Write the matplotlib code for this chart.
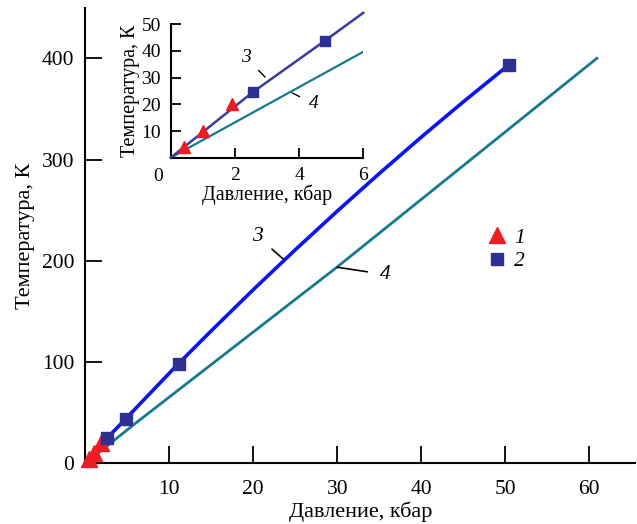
import matplotlib
matplotlib.use("Agg")
import matplotlib.pyplot as plt
from matplotlib.lines import Line2D

plt.rcParams['font.family'] = ['Liberation Serif', 'DejaVu Serif']

# Data
tri_p = [0.4, 1.02, 1.92]
tri_t = [4.1, 10.1, 20.1]
sq_p = [2.55, 4.8, 11.1, 50.4]
sq_t = [24.5, 43.8, 98.0, 393.4]
line3_p = [0, 2.55, 4.8, 6.0, 11.1, 15.0, 20.0, 25.0, 30.0, 35.0, 40.0, 45.0, 50.4]
line3_t = [0, 24.5, 43.8, 54.3, 98.5, 130.9, 171.5, 210.9, 249.1, 286.2, 322.2, 357.0, 393.4]
line4_p = [0, 6.0, 30.0, 60.9]
line4_t = [0, 39.7, 194.0, 400.0]
main_xticks = [10, 20, 30, 40, 50, 60]
main_yticks = [0, 100, 200, 300, 400]
inset_xticks = [2, 4, 6]
inset_yticks = [10, 20, 30, 40, 50]

C_RED = '#ee1c25'
C_SQ = '#2e3192'
C_L3 = '#0a14f5'
C_L3_IN = '#3b3b9b'
C_L4 = '#16798f'

fig = plt.figure(figsize=(6.37, 5.24), dpi=100)
# x: 0 at 85.3 px, 10 kbar = 84 px ; y: 0 at 463.3 px, 100 K = 101.25 px
ax = fig.add_axes([85.3 / 637, 1 - 463.3 / 524, 550 / 637, 455 / 524])

ax.plot(line4_p, line4_t, color=C_L4, lw=2.0, zorder=2)
ax.plot(line3_p, line3_t, color=C_L3, lw=2.6, zorder=3)
ax.plot(tri_p, tri_t, linestyle='none', marker='^', color=C_RED, ms=11, clip_on=False, zorder=4)
ax.plot(sq_p, sq_t, linestyle='none', marker='s', color=C_SQ, ms=9, clip_on=False, zorder=4)

ax.set_xlim(0, 550 / 8.4)
ax.set_ylim(0, 455 / 1.0125)
for s in ['top', 'right']:
    ax.spines[s].set_visible(False)
for s in ['left', 'bottom']:
    ax.spines[s].set_linewidth(1.5)
ax.set_xticks(main_xticks)
ax.set_yticks(main_yticks)
ax.tick_params(axis='x', direction='in', length=12, width=1.3, labelsize=15.5, pad=12)
ax.tick_params(axis='y', direction='in', length=12, width=1.3, labelsize=15.5, pad=8)
ax.set_xlabel('Давление, кбар', fontsize=16, labelpad=2)
ax.set_ylabel('Температура, К', fontsize=16, labelpad=5)

ax.annotate('3', xy=(23.6, 201.5), xytext=(20.5, 224), fontsize=15.5, style='italic',
            ha='center', va='center',
            arrowprops=dict(arrowstyle='-', color='black', lw=1.2, shrinkA=6, shrinkB=0))
ax.annotate('4', xy=(30.0, 193.6), xytext=(35.7, 186.5), fontsize=15.5, style='italic',
            ha='center', va='center',
            arrowprops=dict(arrowstyle='-', color='black', lw=1.2, shrinkA=7, shrinkB=0))

handles = [Line2D([], [], linestyle='none', marker='^', color=C_RED, ms=11),
           Line2D([], [], linestyle='none', marker='s', color=C_SQ, ms=8)]
ax.legend(handles, ['1', '2'], frameon=False, loc='upper left',
          bbox_to_anchor=(0.69, 0.56), prop={'size': 15.5, 'style': 'italic'},
          handletextpad=0.2, labelspacing=0.15, handlelength=1.2)

# Inset: x 0 at 170.7 px, 1 kbar = 32.1 px ; y 0 at 157.7 px, 10 K = 26.68 px
ins = fig.add_axes([170.7 / 637, 1 - 157.7 / 524, 192.6 / 637, 133.4 / 524])
ins.plot(line4_p[:2], line4_t[:2], color=C_L4, lw=1.6, zorder=2)
ins.plot(line3_p[:4], line3_t[:4], color=C_L3_IN, lw=1.8, zorder=3, clip_on=False)
ins.plot(tri_p, tri_t, linestyle='none', marker='^', color=C_RED, ms=8, zorder=4)
ins.plot(sq_p[:2], sq_t[:2], linestyle='none', marker='s', color=C_SQ, ms=7.5, zorder=4)
ins.set_xlim(0, 6)
ins.set_ylim(0, 50)
ins.patch.set_alpha(0)
for s in ['top', 'right']:
    ins.spines[s].set_visible(False)
for s in ['left', 'bottom']:
    ins.spines[s].set_linewidth(1.5)
ins.set_xticks(inset_xticks)
ins.set_yticks(inset_yticks)
ins.tick_params(axis='x', direction='in', length=7, width=1.3, labelsize=14, pad=7)
ins.tick_params(axis='y', direction='in', length=7, width=1.3, labelsize=14, pad=7)
ins.text(-0.065, -0.075, '0', transform=ins.transAxes, fontsize=14, ha='center', va='top')
ins.set_xlabel('Давление, кбар', fontsize=14.5, labelpad=0)
ins.set_ylabel('Температура, К', fontsize=14.5, labelpad=1)
ins.annotate('3', xy=(2.94, 30.2), xytext=(2.35, 37.6), fontsize=14, style='italic',
             ha='center', va='center',
             arrowprops=dict(arrowstyle='-', color='black', lw=1.0, shrinkA=5, shrinkB=0))
ins.annotate('4', xy=(3.78, 24.3), xytext=(4.45, 20.3), fontsize=14, style='italic',
             ha='center', va='center',
             arrowprops=dict(arrowstyle='-', color='black', lw=1.0, shrinkA=5, shrinkB=0))

fig.savefig('out.png', dpi=100)
